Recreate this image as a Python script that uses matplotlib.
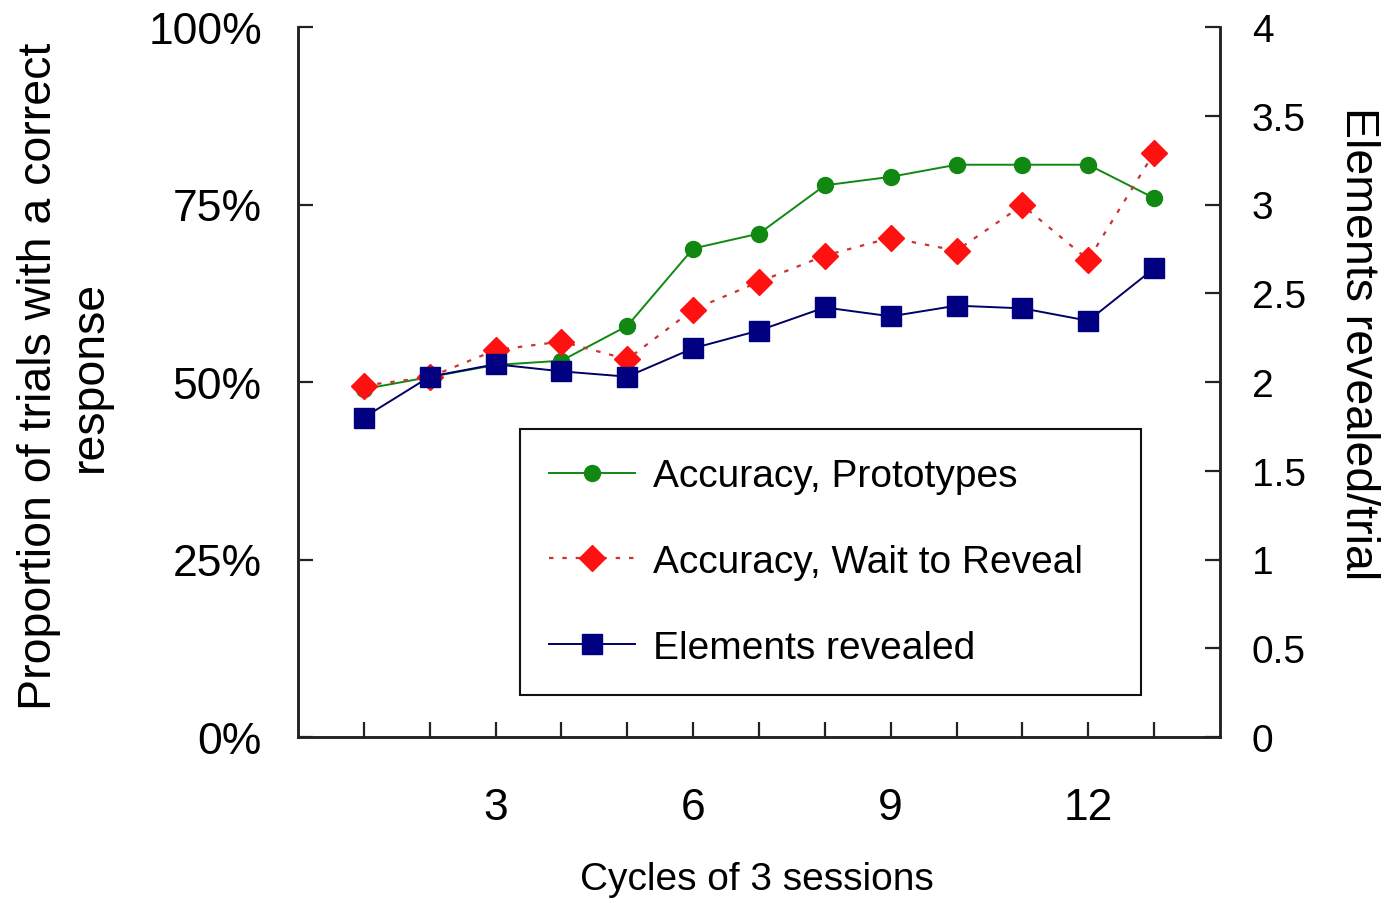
import matplotlib
matplotlib.use("Agg")
import matplotlib.pyplot as plt
from matplotlib.ticker import FuncFormatter, FixedLocator

plt.rcParams['font.family'] = ['Liberation Sans', 'DejaVu Sans']

cycles = list(range(1, 14))
acc_prototypes = [0.490, 0.507, 0.524, 0.530, 0.579, 0.688, 0.709, 0.777, 0.789, 0.806, 0.806, 0.806, 0.759]
acc_wait = [0.495, 0.507, 0.545, 0.557, 0.532, 0.602, 0.641, 0.678, 0.703, 0.685, 0.749, 0.672, 0.823]
elements = [1.80, 2.03, 2.10, 2.06, 2.03, 2.19, 2.29, 2.42, 2.37, 2.43, 2.415, 2.345, 2.64]
xtick_labels = {3: "3", 6: "6", 9: "9", 12: "12"}
left_ticks = [0, 0.25, 0.5, 0.75, 1.0]
right_ticks = [0, 0.5, 1, 1.5, 2, 2.5, 3, 3.5, 4]

fig = plt.figure(figsize=(13.92, 9.04), dpi=100)
ax = fig.add_axes([298/1392, 1 - 738/904, (1220-298)/1392, (738-28)/904])
ax2 = ax.twinx()

l1, = ax.plot(cycles, acc_prototypes, color='#118811', lw=1.4, marker='o', ms=11.5,
              markeredgecolor='#118811', label='Accuracy, Prototypes', zorder=3)
l2, = ax.plot(cycles, acc_wait, color='#cc3333', lw=1.6, ls=(0, (2, 4)), marker='D', ms=13.5,
              markerfacecolor='#ff1111', markeredgecolor='#ff1111', label='Accuracy, Wait to Reveal', zorder=4)
l3, = ax2.plot(cycles, elements, color='#000066', lw=1.4, marker='s', ms=14.5,
               markerfacecolor='#000080', markeredgecolor='#000080', label='Elements revealed', zorder=5)

ax.set_xlim(0, 14)
ax.set_ylim(0, 1)
ax2.set_ylim(0, 4)

ax.xaxis.set_major_locator(FixedLocator(cycles))
ax.xaxis.set_major_formatter(FuncFormatter(lambda v, p: xtick_labels.get(int(round(v)), "")))
ax.set_yticks(left_ticks)
ax.yaxis.set_major_formatter(FuncFormatter(lambda v, p: f"{int(round(v*100))}%"))
ax2.set_yticks(right_ticks)
ax2.yaxis.set_major_formatter(FuncFormatter(lambda v, p: f"{v:g}"))

for a in (ax, ax2):
    a.spines['top'].set_visible(False)
    for s in a.spines.values():
        s.set_linewidth(1.8)
        s.set_color('#222222')

ax.tick_params(axis='x', direction='in', length=11, width=1.6, labelsize=32, pad=36, color='#222222')
ax.tick_params(axis='y', direction='in', length=11, width=1.6, labelsize=32, pad=26, color='#222222')
ax2.tick_params(axis='y', direction='in', length=11, width=1.6, labelsize=28, pad=23, color='#222222')

ax.set_xlabel("Cycles of 3 sessions", fontsize=28)
ax.xaxis.label.set_va('baseline')
ax.xaxis.set_label_coords((756.5-298)/922, (738-890)/710)

ax.set_ylabel("Proportion of trials with a correct\nresponse", fontsize=33.5, linespacing=1.2)
ax.yaxis.label.set(va='center', ha='center', rotation_mode='default')
ax.yaxis.set_label_coords((64-298)/922, (738-376)/710)

ax2.set_ylabel("Elements revealed/trial", fontsize=33.5, rotation=-90)
ax2.yaxis.label.set(va='center', ha='center', rotation_mode='default')
ax2.yaxis.set_label_coords((1358-298)/922, (738-344)/710)

leg = ax2.legend(handles=[l1, l2, l3], loc='upper left',
                 bbox_to_anchor=((520-298)/922, (738-430)/710, (1141-520)/922, 0.0),
                 mode='expand', fontsize=28, frameon=True, fancybox=False,
                 edgecolor='#111111', framealpha=1, labelspacing=1.28, handlelength=2.2,
                 handletextpad=0.46, borderpad=0.75, borderaxespad=0)
leg.get_frame().set_linewidth(1.5)

fig.savefig("out.png", dpi=100, facecolor='white')
